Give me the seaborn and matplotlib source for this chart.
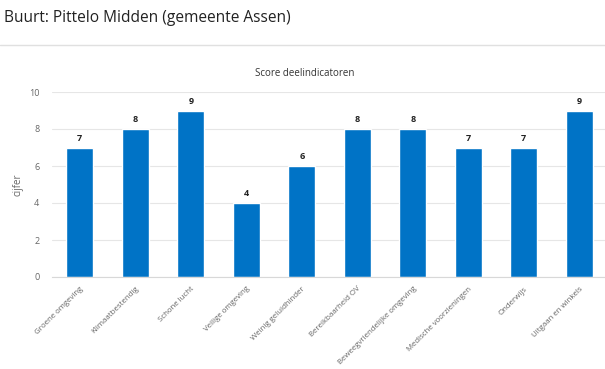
import numpy as np
import pandas as pd
import matplotlib
matplotlib.use("Agg")
import matplotlib.pyplot as plt
import seaborn as sns

categories = [
    "Groene omgeving",
    "Klimaatbestendig",
    "Schone lucht",
    "Veilige omgeving",
    "Weinig geluidhinder",
    "Bereikbaarheid OV",
    "Beweegvriendelijke omgeving",
    "Medische voorzieningen",
    "Onderwijs",
    "Uitgaan en winkels",
]
scores = [7, 8, 9, 4, 6, 8, 8, 7, 7, 9]
y_ticks = [0, 2, 4, 6, 8, 10]

df = pd.DataFrame({"indicator": categories, "cijfer": scores})

sns.set_style("white")
plt.rcParams["font.family"] = ["Open Sans", "DejaVu Sans"]

fig = plt.figure(figsize=(6.05, 3.69), dpi=100)
ax = fig.add_axes([52 / 605, 1 - 277 / 369, 555 / 605, 185 / 369])

sns.barplot(data=df, x="indicator", y="cijfer", color="#0073c6",
            saturation=1, width=0.49, ax=ax)

for i, v in enumerate(scores):
    ax.text(i, v + 0.25, str(v), ha="center", va="bottom",
            fontsize=6.5, fontweight="bold", color="#222222")

ax.set_xlim(-0.5, len(categories) - 0.5)
ax.set_ylim(0, 10)
ax.set_yticks(y_ticks)
ax.yaxis.grid(True, color="#e6e6e6", linewidth=0.8)
ax.set_axisbelow(True)
for side in ["top", "right", "left"]:
    ax.spines[side].set_visible(False)
ax.spines["bottom"].set_color("#d8d8d8")
ax.tick_params(axis="y", length=0, labelsize=6.5, labelcolor="#666666", pad=9)
ax.set_xticks(range(len(categories)))
ax.set_xticklabels(categories, rotation=45, ha="right", rotation_mode="anchor")
ax.tick_params(axis="x", length=0, labelsize=5.7, labelcolor="#666666", pad=6)
ax.set_xlabel("")
ax.set_ylabel("cijfer", fontsize=7, color="#666666")
ax.yaxis.set_label_coords(-28 / 555, 0.5)

fig.text(305 / 605, 1 - 73 / 369, "Score deelindicatoren", ha="center",
         va="center", fontsize=7, color="#333333")
fig.text(4 / 605, 1 - 18 / 369, "Buurt: Pittelo Midden (gemeente Assen)",
         ha="left", va="center", fontsize=11.2, color="#222222")
fig.add_artist(plt.Line2D([0, 1], [1 - 45 / 369] * 2, color="#e0e0e0",
                          linewidth=1, transform=fig.transFigure))

fig.savefig("out.png", dpi=100)
